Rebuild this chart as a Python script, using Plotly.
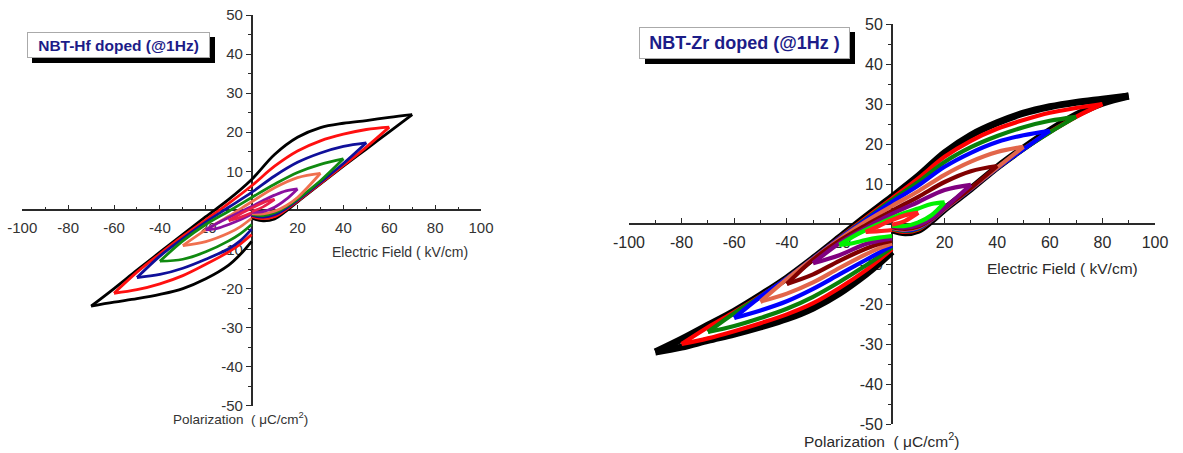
import plotly.graph_objects as go

# ---------------- DATA : NBT-Hf doped (left) ----------------
# each loop: start arm (0 -> Emax), upper branch (Emax -> -Emax), return branch (-Emax -> 0)
hf70_start_E = [0, 5, 10, 15, 20, 30, 40, 50, 60, 70]
hf70_start_P = [-2.0, -2.7, -2.2, -0.2, 2.2, 6.8, 11.3, 15.7, 20.1, 24.5]
hf70_up_E = [70, 60, 50, 40, 30, 20, 10, 0, -10, -20, -30, -40, -50, -60, -70]
hf70_up_P = [24.5, 23.8, 23.0, 22.3, 21.2, 18.7, 14.3, 7.9, 2.8, -1.6, -6.1, -10.7, -15.3, -20.0, -24.5]
hf70_ret_E = [-70, -60, -50, -40, -30, -20, -10, -5, 0]
hf70_ret_P = [-24.5, -23.5, -22.6, -21.5, -20.0, -17.5, -14.0, -11.3, -7.9]

hf60_start_E = [0, 5, 10, 15, 20, 30, 40, 50, 60]
hf60_start_P = [-1.6, -2.1, -1.6, 0.2, 2.4, 6.9, 11.5, 16.2, 21.3]
hf60_up_E = [60, 50, 40, 30, 20, 10, 0, -10, -20, -30, -40, -50, -60]
hf60_up_P = [21.3, 20.7, 19.5, 17.8, 15.2, 11.3, 6.3, 1.8, -2.4, -6.6, -11.1, -15.8, -21.2]
hf60_ret_E = [-60, -50, -40, -30, -20, -10, -5, 0]
hf60_ret_P = [-21.2, -20.3, -18.8, -16.7, -13.8, -10.6, -8.6, -6.2]

hf50_start_E = [0, 5, 10, 15, 20, 30, 40, 50]
hf50_start_P = [-1.3, -1.7, -1.1, 0.5, 2.6, 7.2, 12.0, 17.3]
hf50_up_E = [50, 40, 30, 20, 10, 0, -10, -20, -30, -40, -50]
hf50_up_P = [17.3, 16.4, 14.7, 12.3, 8.8, 4.6, 0.8, -3.0, -7.2, -11.7, -17.2]
hf50_ret_E = [-50, -40, -30, -20, -10, -5, 0]
hf50_ret_P = [-17.2, -16.4, -14.8, -12.5, -9.8, -7.8, -4.8]

hf40_start_E = [0, 5, 10, 15, 20, 30, 40]
hf40_start_P = [-1.0, -1.3, -0.6, 0.9, 2.9, 7.6, 13.2]
hf40_up_E = [40, 30, 20, 10, 0, -10, -20, -30, -40]
hf40_up_P = [13.2, 11.8, 9.7, 6.7, 3.3, -0.2, -3.6, -7.8, -13.0]
hf40_ret_E = [-40, -30, -20, -10, -5, 0]
hf40_ret_P = [-13.0, -12.5, -10.6, -7.8, -6.0, -3.6]

hf30_start_E = [0, 5, 10, 15, 20, 30]
hf30_start_P = [-0.8, -0.9, -0.2, 1.2, 3.3, 9.5]
hf30_up_E = [30, 20, 10, 0, -10, -20, -30]
hf30_up_P = [9.5, 8.4, 5.8, 2.2, -1.5, -5.0, -9.0]
hf30_ret_E = [-30, -20, -10, -5, 0]
hf30_ret_P = [-9.0, -8.0, -5.8, -4.2, -2.0]

hf20_start_E = [0, 5, 10, 15, 20]
hf20_start_P = [-0.5, -0.3, 0.8, 2.8, 5.5]
hf20_up_E = [20, 15, 10, 5, 0, -5, -10, -15, -20]
hf20_up_P = [5.5, 5.0, 3.9, 2.5, 1.0, -0.4, -1.8, -3.3, -5.0]
hf20_ret_E = [-20, -15, -10, -5, 0]
hf20_ret_P = [-5.0, -4.6, -3.6, -2.4, -1.0]

hf10_start_E = [0, 5, 10]
hf10_start_P = [-0.3, 0.9, 2.8]
hf10_up_E = [10, 5, 0, -5, -10]
hf10_up_P = [2.8, 2.0, 0.6, -0.9, -2.6]
hf10_ret_E = [-10, -5, 0]
hf10_ret_P = [-2.6, -1.8, -0.6]

hf_colors = ["#000000", "#ff1010", "#10109a", "#108a10", "#f0704f", "#8a10a0", "#e8204a"]

# ---------------- DATA : NBT-Zr doped (right) ----------------
zr90_start_E = [0, 5, 10, 15, 20, 30, 40, 50, 60, 70, 80, 90]
zr90_start_P = [-1.5, -2.2, -1.6, 0.8, 3.7, 8.8, 14.2, 19.0, 23.4, 27.3, 30.2, 32.0]
zr90_up_E = [90, 80, 70, 60, 50, 40, 30, 20, 10, 0, -10, -20, -30, -40, -50, -60, -70, -80, -90]
zr90_up_P = [32.0, 31.2, 30.4, 29.3, 27.7, 25.3, 22.2, 17.8, 12.0, 6.8, 1.8, -3.4, -8.6, -13.5, -17.8, -21.8, -25.3, -28.8, -32.0]
zr90_ret_E = [-90, -80, -70, -60, -50, -40, -30, -20, -10, -5, 0]
zr90_ret_P = [-32.0, -30.8, -29.1, -27.5, -25.7, -23.7, -21.0, -17.3, -12.6, -9.9, -6.9]

zr80_start_E = [0, 5, 10, 15, 20, 30, 40, 50, 60, 70, 80]
zr80_start_P = [-1.3, -2.0, -1.4, 0.9, 3.7, 8.8, 14.0, 18.8, 23.0, 26.8, 30.0]
zr80_up_E = [80, 70, 60, 50, 40, 30, 20, 10, 0, -10, -20, -30, -40, -50, -60, -70, -80]
zr80_up_P = [30.0, 29.0, 27.8, 26.0, 23.8, 20.8, 16.8, 11.4, 6.4, 1.5, -3.5, -8.6, -13.6, -18.0, -22.0, -25.8, -30.0]
zr80_ret_E = [-80, -70, -60, -50, -40, -30, -20, -10, -5, 0]
zr80_ret_P = [-30.0, -28.6, -26.8, -24.8, -22.6, -19.8, -16.0, -11.6, -9.0, -6.3]

zr70_start_E = [0, 5, 10, 15, 20, 30, 40, 50, 60, 70]
zr70_start_P = [-1.2, -1.8, -1.2, 1.0, 3.7, 8.8, 14.0, 18.7, 22.9, 26.8]
zr70_up_E = [70, 60, 50, 40, 30, 20, 10, 0, -10, -20, -30, -40, -50, -60, -70]
zr70_up_P = [26.8, 25.8, 24.2, 22.0, 19.2, 15.5, 10.5, 6.0, 1.2, -3.6, -8.6, -13.6, -18.1, -22.3, -27.0]
zr70_ret_E = [-70, -60, -50, -40, -30, -20, -10, -5, 0]
zr70_ret_P = [-27.0, -25.5, -23.5, -21.2, -18.2, -14.5, -10.4, -8.2, -5.8]

zr60_start_E = [0, 5, 10, 15, 20, 30, 40, 50, 60]
zr60_start_P = [-1.0, -1.6, -1.0, 1.0, 3.7, 8.8, 14.0, 18.7, 23.3]
zr60_up_E = [60, 50, 40, 30, 20, 10, 0, -10, -20, -30, -40, -50, -60]
zr60_up_P = [23.3, 22.2, 20.5, 17.8, 14.3, 9.6, 5.5, 1.0, -3.6, -8.6, -13.6, -18.2, -23.5]
zr60_ret_E = [-60, -50, -40, -30, -20, -10, -5, 0]
zr60_ret_P = [-23.5, -21.6, -19.3, -16.2, -12.6, -9.0, -7.2, -5.4]

zr50_start_E = [0, 5, 10, 15, 20, 30, 40, 50]
zr50_start_P = [-0.9, -1.4, -0.8, 1.1, 3.8, 8.9, 14.1, 19.3]
zr50_up_E = [50, 40, 30, 20, 10, 0, -10, -20, -30, -40, -50]
zr50_up_P = [19.3, 18.0, 15.6, 12.3, 8.2, 4.5, 0.6, -3.8, -8.7, -13.8, -19.4]
zr50_ret_E = [-50, -40, -30, -20, -10, -5, 0]
zr50_ret_P = [-19.4, -17.4, -14.6, -11.0, -7.6, -6.1, -4.9]

zr40_start_E = [0, 5, 10, 15, 20, 30, 40]
zr40_start_P = [-0.8, -1.2, -0.6, 1.2, 3.9, 9.0, 14.5]
zr40_up_E = [40, 30, 20, 10, 0, -10, -20, -30, -40]
zr40_up_P = [14.5, 13.2, 10.5, 6.8, 3.3, -0.3, -4.2, -8.9, -15.0]
zr40_ret_E = [-40, -30, -20, -10, -5, 0]
zr40_ret_P = [-15.0, -12.6, -9.2, -6.2, -5.0, -4.2]

zr30_start_E = [0, 5, 10, 15, 20, 30]
zr30_start_P = [-0.6, -0.9, -0.3, 1.4, 4.0, 9.8]
zr30_up_E = [30, 20, 10, 0, -10, -20, -30]
zr30_up_P = [9.8, 8.5, 5.5, 2.5, -1.0, -4.8, -9.8]
zr30_ret_E = [-30, -20, -10, -5, 0]
zr30_ret_P = [-9.8, -7.8, -5.0, -4.2, -3.6]

zr20_start_E = [0, 5, 10, 15, 20]
zr20_start_P = [-0.4, -0.5, 0.4, 2.2, 5.4]
zr20_up_E = [20, 15, 10, 5, 0, -5, -10, -15, -20]
zr20_up_P = [5.4, 5.0, 3.9, 2.8, 1.5, 0.0, -1.5, -3.2, -5.2]
zr20_ret_E = [-20, -15, -10, -5, 0]
zr20_ret_P = [-5.2, -4.8, -4.0, -3.4, -3.0]

zr10_start_E = [0, 5, 10]
zr10_start_P = [-0.2, 0.8, 2.8]
zr10_up_E = [10, 5, 0, -5, -10]
zr10_up_P = [2.8, 2.2, 1.0, -0.5, -2.0]
zr10_ret_E = [-10, -5, 0]
zr10_ret_P = [-2.0, -1.8, -1.5]

zr_colors = ["#000000", "#ff0000", "#0a800a", "#0000ff", "#e2664a", "#800000", "#800080", "#00f000", "#ff2020"]

x_tickvals = [-100, -80, -60, -40, -20, 20, 40, 60, 80, 100]
x_ticktext = ["-100", "-80", "-60", "-40", "-20", "20", "40", "60", "80", "100"]
y_tickvals = [-50, -40, -30, -20, -10, 10, 20, 30, 40, 50]
y_ticktext = ["-50", "-40", "-30", "-20", "-10", "10", "20", "30", "40", "50"]

hf_title = "NBT-Hf doped (@1Hz)"
zr_title = "NBT-Zr doped (@1Hz )"
x_title = "Electric Field ( kV/cm)"
y_title = "Polarization  ( μC/cm<sup>2</sup>)"

# ---------------- FIGURE ----------------
W, H = 1183, 453
fig = go.Figure()

hf_loops = [
    (hf70_start_E, hf70_start_P, hf70_up_E, hf70_up_P, hf70_ret_E, hf70_ret_P),
    (hf60_start_E, hf60_start_P, hf60_up_E, hf60_up_P, hf60_ret_E, hf60_ret_P),
    (hf50_start_E, hf50_start_P, hf50_up_E, hf50_up_P, hf50_ret_E, hf50_ret_P),
    (hf40_start_E, hf40_start_P, hf40_up_E, hf40_up_P, hf40_ret_E, hf40_ret_P),
    (hf30_start_E, hf30_start_P, hf30_up_E, hf30_up_P, hf30_ret_E, hf30_ret_P),
    (hf20_start_E, hf20_start_P, hf20_up_E, hf20_up_P, hf20_ret_E, hf20_ret_P),
    (hf10_start_E, hf10_start_P, hf10_up_E, hf10_up_P, hf10_ret_E, hf10_ret_P),
]
zr_loops = [
    (zr90_start_E, zr90_start_P, zr90_up_E, zr90_up_P, zr90_ret_E, zr90_ret_P),
    (zr80_start_E, zr80_start_P, zr80_up_E, zr80_up_P, zr80_ret_E, zr80_ret_P),
    (zr70_start_E, zr70_start_P, zr70_up_E, zr70_up_P, zr70_ret_E, zr70_ret_P),
    (zr60_start_E, zr60_start_P, zr60_up_E, zr60_up_P, zr60_ret_E, zr60_ret_P),
    (zr50_start_E, zr50_start_P, zr50_up_E, zr50_up_P, zr50_ret_E, zr50_ret_P),
    (zr40_start_E, zr40_start_P, zr40_up_E, zr40_up_P, zr40_ret_E, zr40_ret_P),
    (zr30_start_E, zr30_start_P, zr30_up_E, zr30_up_P, zr30_ret_E, zr30_ret_P),
    (zr20_start_E, zr20_start_P, zr20_up_E, zr20_up_P, zr20_ret_E, zr20_ret_P),
    (zr10_start_E, zr10_start_P, zr10_up_E, zr10_up_P, zr10_ret_E, zr10_ret_P),
]


def add_loops(loops, colors, widths, xa, ya):
    for loop, col, w in zip(loops, colors, widths):
        for i in range(0, 6, 2):
            fig.add_trace(go.Scatter(
                x=loop[i], y=loop[i + 1], mode="lines",
                line=dict(color=col, width=w, shape="spline", smoothing=1.0),
                xaxis=xa, yaxis=ya, showlegend=False, hoverinfo="skip"))


add_loops(hf_loops, hf_colors, [2.8] * 7, "x", "y")
add_loops(zr_loops, zr_colors, [7] + [4.2] * 8, "x2", "y2")


def px(v):
    return v / W


def py(v):
    return 1 - v / H


tick_font_l = dict(family="Liberation Sans, Arial", size=15, color="#333333")
tick_font_r = dict(family="Liberation Sans, Arial", size=16, color="#2a2a2a")


def xaxis_cfg(x0, x1, ypos, font, lw):
    return dict(domain=[px(x0), px(x1)], range=[-100, 100], anchor="free", position=py(ypos),
                tickmode="array", tickvals=x_tickvals, ticktext=x_ticktext,
                ticks="inside", ticklen=5, tickwidth=1.4, tickcolor="#2a2a2a",
                minor=dict(tickvals=[-90, -70, -50, -30, -10, 10, 30, 50, 70, 90],
                           ticks="inside", ticklen=3, tickwidth=1.2, tickcolor="#2a2a2a"),
                showline=True, linecolor="#2a2a2a", linewidth=lw, showgrid=False, zeroline=False,
                tickfont=font, ticklabelstandoff=4, layer="below traces", fixedrange=True,
                automargin=False)


def yaxis_cfg(y0, y1, xpos, font, lw):
    return dict(domain=[py(y1), py(y0)], range=[-50, 50], anchor="free", position=px(xpos),
                tickmode="array", tickvals=y_tickvals, ticktext=y_ticktext,
                ticks="outside", ticklen=5, tickwidth=1.4, tickcolor="#2a2a2a",
                minor=dict(tickvals=[-45, -35, -25, -15, -5, 5, 15, 25, 35, 45],
                           ticks="outside", ticklen=3, tickwidth=1.2, tickcolor="#2a2a2a"),
                showline=True, linecolor="#2a2a2a", linewidth=lw, showgrid=False, zeroline=False,
                tickfont=font, layer="below traces", fixedrange=True, automargin=False)


fig.update_layout(
    width=W, height=H, margin=dict(l=0, r=0, t=0, b=0, autoexpand=False),
    paper_bgcolor="white", plot_bgcolor="rgba(0,0,0,0)",
    xaxis=xaxis_cfg(22.3, 481, 210.4, tick_font_l, 1.5),
    yaxis=yaxis_cfg(15, 405.8, 251.6, tick_font_l, 1.5),
    xaxis2=xaxis_cfg(629, 1155, 224, tick_font_r, 2),
    yaxis2=yaxis_cfg(24, 424, 892, tick_font_r, 2),
)

# title boxes with drop shadows
shapes = [
    dict(type="rect", xref="paper", yref="paper", x0=px(32), x1=px(215), y0=py(63), y1=py(37),
         fillcolor="black", line=dict(width=0), layer="above"),
    dict(type="rect", xref="paper", yref="paper", x0=px(645), x1=px(855), y0=py(64), y1=py(32),
         fillcolor="black", line=dict(width=0), layer="above"),
]
fig.update_layout(shapes=shapes)

ann = []
ann.append(dict(xref="paper", yref="paper", x=px(27), y=py(32), xanchor="left", yanchor="top",
                text="<b>" + hf_title + "</b>", showarrow=False, width=175, height=18, borderpad=3,
                bgcolor="white", bordercolor="#aaaaaa", borderwidth=1,
                font=dict(family="Liberation Sans, Arial", size=15.5, color="#1c1c88")))
ann.append(dict(xref="paper", yref="paper", x=px(639), y=py(27), xanchor="left", yanchor="top",
                text="<b>" + zr_title + "</b>", showarrow=False, width=201, height=22, borderpad=4,
                bgcolor="white", bordercolor="#aaaaaa", borderwidth=1,
                font=dict(family="Liberation Sans, Arial", size=18, color="#1c1c88")))
# axis titles
ann.append(dict(xref="paper", yref="paper", x=px(400), y=py(252), xanchor="center", yanchor="middle",
                text=x_title, showarrow=False, font=dict(family="Liberation Sans, Arial", size=14, color="#333")))
ann.append(dict(xref="paper", yref="paper", x=px(1062), y=py(268), xanchor="center", yanchor="middle",
                text=x_title, showarrow=False, font=dict(family="Liberation Sans, Arial", size=15.5, color="#2a2a2a")))
ann.append(dict(xref="paper", yref="paper", x=px(240), y=py(418), xanchor="center", yanchor="middle",
                text=y_title, showarrow=False, font=dict(family="Liberation Sans, Arial", size=13.5, color="#333")))
ann.append(dict(xref="paper", yref="paper", x=px(881), y=py(440), xanchor="center", yanchor="middle",
                text=y_title, showarrow=False, font=dict(family="Liberation Sans, Arial", size=15.5, color="#2a2a2a")))
fig.update_layout(annotations=ann)

fig.write_html("out.html")
